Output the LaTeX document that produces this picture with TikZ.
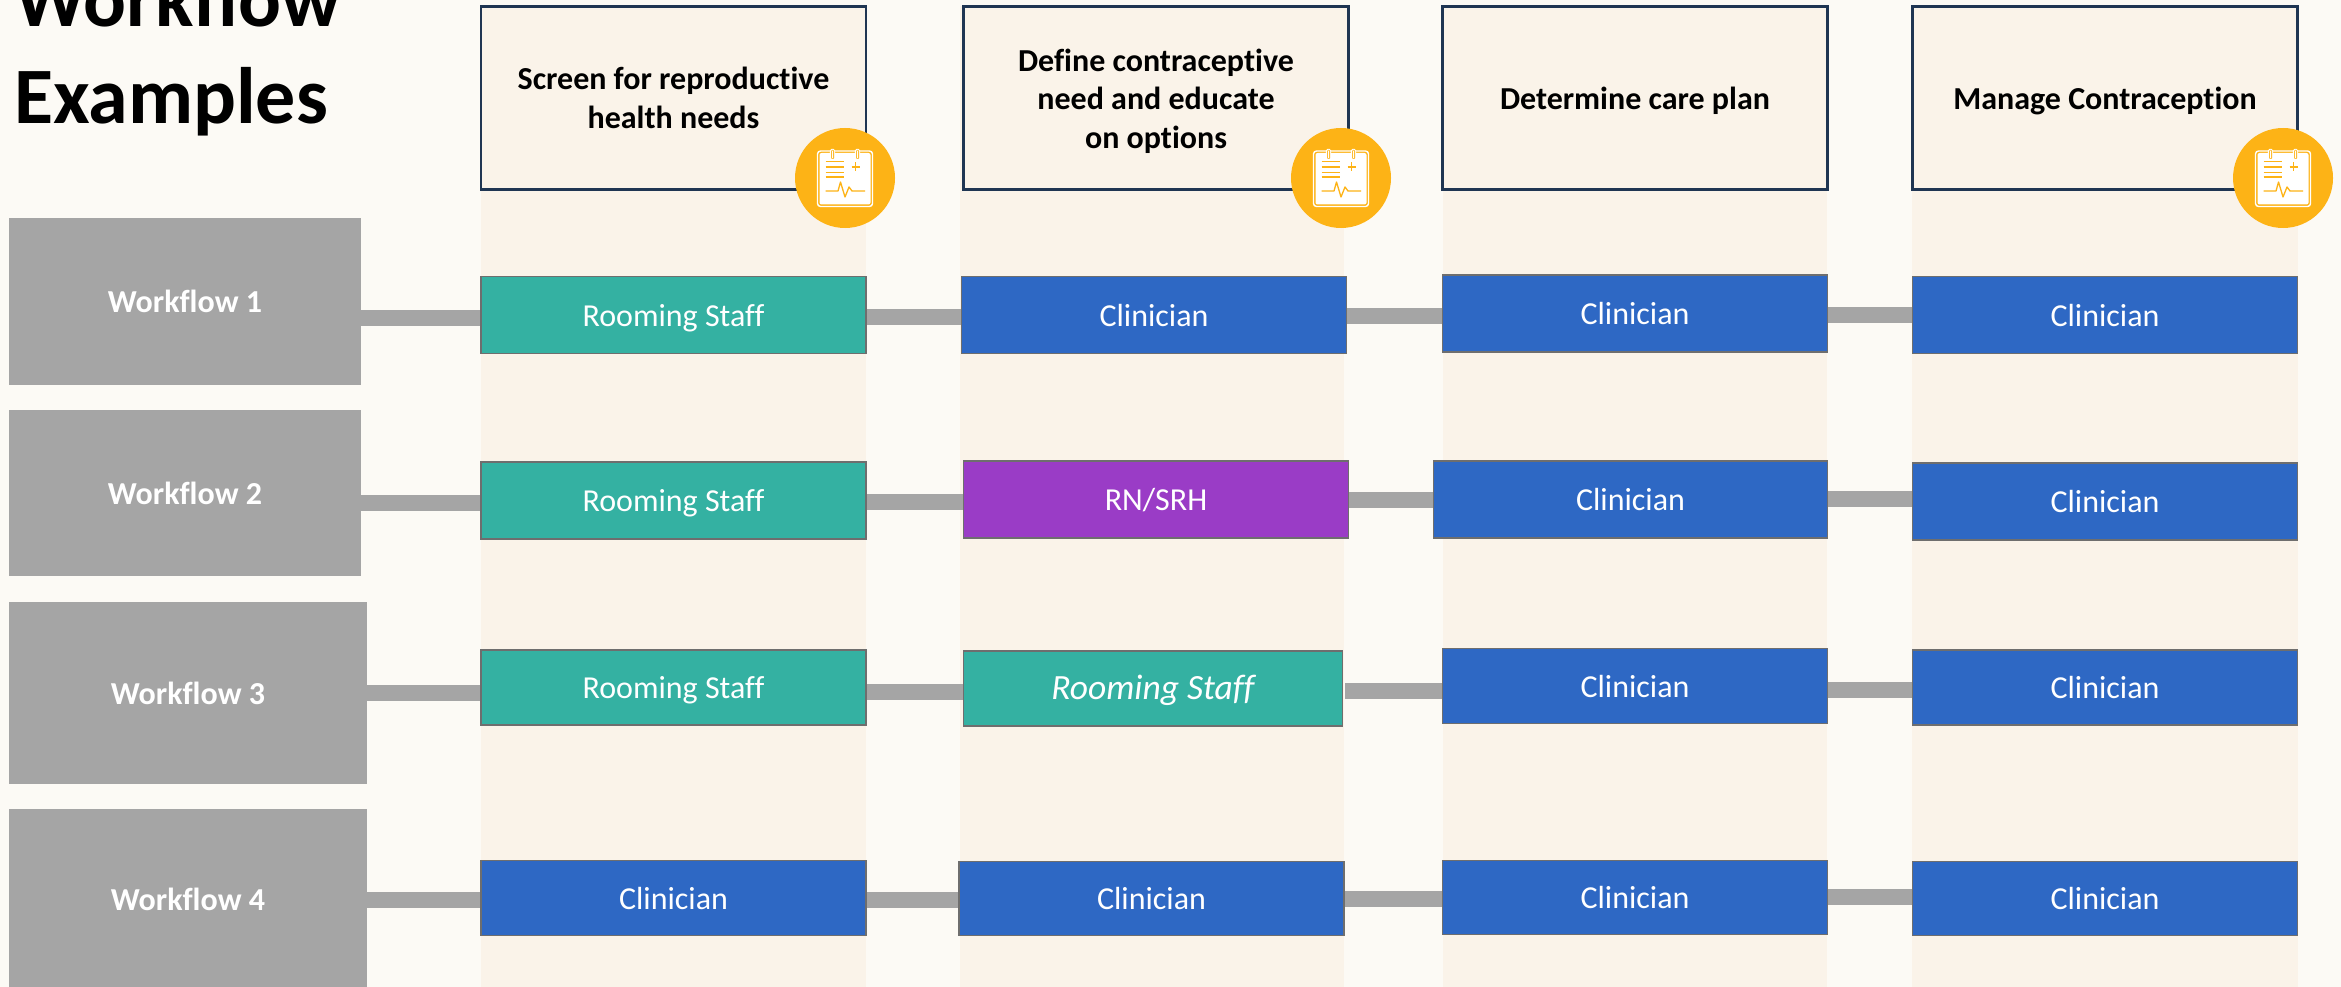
\documentclass[tikz,border=0pt]{standalone}
\usepackage{fontspec}
\setmainfont[Ligatures=CommonOff]{Carlito}
\definecolor{pagebg}{HTML}{FCFAF5}
\definecolor{colbg}{HTML}{FAF3E9}
\definecolor{navy}{HTML}{1F3552}
\definecolor{tealc}{HTML}{34B1A2}
\definecolor{bluec}{HTML}{2E68C4}
\definecolor{purplec}{HTML}{9A3CC6}
\definecolor{greyc}{HTML}{A5A5A5}
\definecolor{edgec}{HTML}{6E6E6E}
\definecolor{amber}{HTML}{FDB316}
\newcommand{\hstrut}{\rule{0pt}{29pt}}
\tikzset{
  x=1pt,y=-1pt,
  column/.style={fill=colbg,draw=none},
  header/.style={draw=navy,line width=2.2pt,fill=colbg,minimum width=385pt,minimum height=183pt,inner sep=0pt,align=center,font=\bfseries\fontsize{32}{38.5}\selectfont,text=black},
  cell/.style={draw=edgec,line width=1.6pt,minimum width=385pt,minimum height=77pt,inner sep=0pt,text=white,text height=22pt,text depth=0pt,font=\fontsize{32}{36}\selectfont},
  tealcell/.style={cell,fill=tealc},
  bluecell/.style={cell,fill=bluec},
  purplecell/.style={cell,fill=purplec},
  flowbox/.style={fill=greyc,draw=none,minimum width=352pt,inner sep=0pt,text=white,font=\bfseries\fontsize{32}{36}\selectfont},
  link/.style={draw=greyc,line width=16pt},
  titletext/.style={anchor=base west,inner sep=0pt,font=\bfseries\fontsize{80}{96}\selectfont,text=black},
  iconcircle/.style={circle,fill=amber,draw=none,minimum size=100pt,inner sep=0pt},
  pics/chart/.style={code={
    \draw[white,line width=1.4pt,rounded corners=3pt] (-27.5,-27) rectangle (27.5,28.5);
    \fill[white,rounded corners=2pt] (-25.5,-25) rectangle (25.5,26.5);
    \foreach \cx in {-12.5,12.5}{
      \fill[white,rounded corners=1.5pt] (\cx-2.6,-29) rectangle (\cx+2.6,-18);
      \fill[amber,rounded corners=1pt] (\cx-1.5,-28) rectangle (\cx+1.5,-19);
      \fill[white,rounded corners=.8pt] (\cx-.7,-27.5) rectangle (\cx+.7,-19.5);
    }
    \foreach \ly in {-16.5,-11,-5.5,-1}{
      \draw[amber,line width=1.3pt] (-19.5,\ly) -- (-1,\ly);
    }
    \draw[amber,line width=1.4pt] (6.5,-11) -- (14.5,-11) (10.5,-15.5) -- (10.5,-6.5);
    \draw[amber,line width=1.3pt,line join=round] (-19.5,13) -- (-7,13) -- (-4.5,4) -- (0,19) -- (4,9) -- (7,13) -- (20,13);
  }},
}
\begin{document}
\begin{tikzpicture}
\useasboundingbox (0,0) rectangle (2341,987);
\clip (0,0) rectangle (2341,987);
\fill[pagebg] (0,0) rectangle (2341,987);
% column bands
\fill[column] (481,6) rectangle (866,987);
\fill[column] (960,6) rectangle (1344,987);
\fill[column] (1443,6) rectangle (1827,987);
\fill[column] (1912,6) rectangle (2298,987);
% title
\node[titletext] (title1) at (14,27) {Workflow};
\node[titletext] (title2) at (14,123.5) {Examples};
% headers
\node[header] (h1) at (673.5,98) {Screen for reproductive\\health needs};
\node[header] (h2) at (1156,98) {\hstrut Define contraceptive\\need and educate\\on options};
\node[header] (h3) at (1635,98) {\hstrut Determine care plan};
\node[header] (h4) at (2105,98) {\hstrut Manage Contraception};
% workflow boxes
\node[flowbox,minimum height=167pt] (w1) at (185,301) {Workflow 1};
\node[flowbox,minimum height=166pt] (w2) at (185,493) {Workflow 2};
\node[flowbox,minimum width=358pt,minimum height=182pt] (w3) at (188,693) {Workflow 3};
\node[flowbox,minimum width=358pt,minimum height=180pt] (w4) at (188,899) {Workflow 4};
% cells
\node[tealcell] (a1) at (673.5,315) {Rooming Staff};
\node[bluecell] (b1) at (1154,315) {Clinician};
\node[bluecell] (c1) at (1635,313.5) {Clinician};
\node[bluecell] (d1) at (2105,315) {Clinician};
\node[tealcell] (a2) at (673.5,500.5) {Rooming Staff};
\node[purplecell] (b2) at (1156,499.5) {RN/SRH};
\node[bluecell,minimum width=394pt] (c2) at (1630.5,499.5) {Clinician};
\node[bluecell] (d2) at (2105,501.5) {Clinician};
\node[tealcell,minimum height=75pt] (a3) at (673.5,687.5) {Rooming Staff};
\node[tealcell,minimum width=379pt,minimum height=75pt,font=\itshape\fontsize{35.5}{36}\selectfont] (b3) at (1153,688.5) {Rooming Staff};
\node[bluecell,minimum height=75pt] (c3) at (1635,686) {Clinician};
\node[bluecell,minimum height=75pt] (d3) at (2105,687.5) {Clinician};
\node[bluecell,minimum height=75pt] (a4) at (673.5,898) {Clinician};
\node[bluecell,minimum height=74pt] (b4) at (1151.5,898.5) {Clinician};
\node[bluecell,minimum height=74pt] (c4) at (1635,897.5) {Clinician};
\node[bluecell,minimum height=74pt] (d4) at (2105,898.5) {Clinician};
% connectors
\draw[link] (w1.east |- 0,318) -- (a1.west |- 0,318);
\draw[link] (a1.east |- 0,317) -- (b1.west |- 0,317);
\draw[link] (b1.east |- 0,316) -- (c1.west |- 0,316);
\draw[link] (c1.east |- 0,315) -- (d1.west |- 0,315);
\draw[link] (w2.east |- 0,503) -- (a2.west |- 0,503);
\draw[link] (a2.east |- 0,502) -- (b2.west |- 0,502);
\draw[link] (b2.east |- 0,500) -- (c2.west |- 0,500);
\draw[link] (c2.east |- 0,499) -- (d2.west |- 0,499);
\draw[link] (w3.east |- 0,693) -- (a3.west |- 0,693);
\draw[link] (a3.east |- 0,692) -- (b3.west |- 0,692);
\draw[link] ([xshift=2pt]b3.east |- 0,691) -- (c3.west |- 0,691);
\draw[link] (c3.east |- 0,690) -- (d3.west |- 0,690);
\draw[link] (w4.east |- 0,900) -- (a4.west |- 0,900);
\draw[link] (a4.east |- 0,900) -- (b4.west |- 0,900);
\draw[link] (b4.east |- 0,899) -- (c4.west |- 0,899);
\draw[link] (c4.east |- 0,897) -- (d4.west |- 0,897);
% icons
\node[iconcircle] (i1) at (845,178) {};
\pic at (i1.center) {chart};
\node[iconcircle] (i2) at (1341,178) {};
\pic at (i2.center) {chart};
\node[iconcircle] (i3) at (2283,178) {};
\pic at (i3.center) {chart};
\end{tikzpicture}
\end{document}
